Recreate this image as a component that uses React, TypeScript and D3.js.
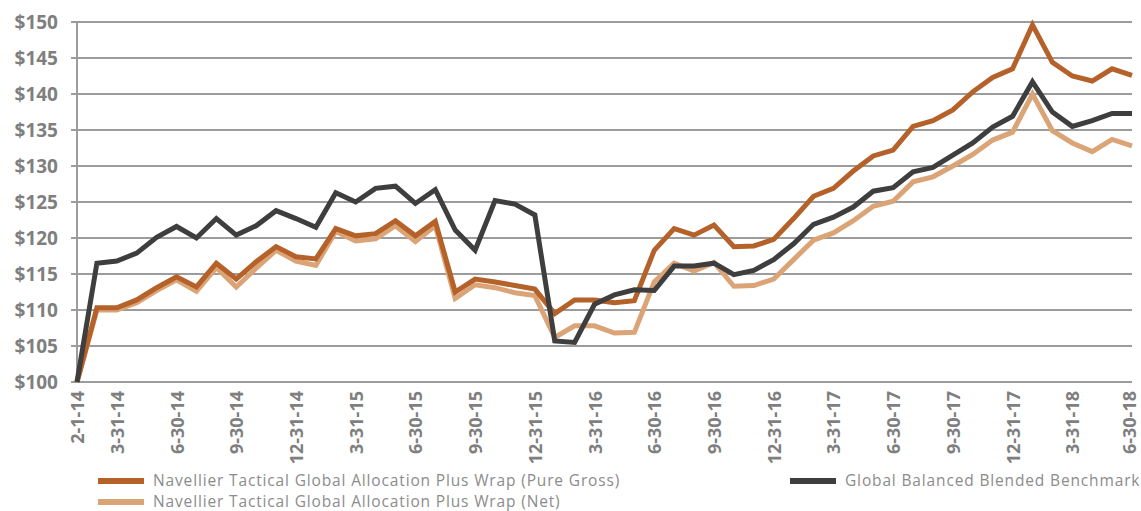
import React, { useEffect, useRef } from "react";
import * as d3 from "d3";

const dates = [
  "2-1-14", "2-28-14", "3-31-14", "4-30-14", "5-31-14", "6-30-14", "7-31-14", "8-31-14", "9-30-14", "10-31-14", "11-30-14", "12-31-14",
  "1-31-15", "2-28-15", "3-31-15", "4-30-15", "5-31-15", "6-30-15", "7-31-15", "8-31-15", "9-30-15", "10-31-15", "11-30-15", "12-31-15",
  "1-31-16", "2-29-16", "3-31-16", "4-30-16", "5-31-16", "6-30-16", "7-31-16", "8-31-16", "9-30-16", "10-31-16", "11-30-16", "12-31-16",
  "1-31-17", "2-28-17", "3-31-17", "4-30-17", "5-31-17", "6-30-17", "7-31-17", "8-31-17", "9-30-17", "10-31-17", "11-30-17", "12-31-17",
  "1-31-18", "2-28-18", "3-31-18", "4-30-18", "5-31-18", "6-30-18",
];

const tickLabels = [
  "2-1-14", "3-31-14", "6-30-14", "9-30-14", "12-31-14", "3-31-15", "6-30-15", "9-30-15", "12-31-15",
  "3-31-16", "6-30-16", "9-30-16", "12-31-16", "3-31-17", "6-30-17", "9-30-17", "12-31-17", "3-31-18", "6-30-18",
];

const yTicks = [100, 105, 110, 115, 120, 125, 130, 135, 140, 145, 150];

const grossValues = [
  100, 110.3, 110.3, 111.4, 113.1, 114.6, 113.2, 116.5, 114.3, 116.7, 118.8, 117.4,
  117.1, 121.3, 120.3, 120.6, 122.4, 120.3, 122.3, 112.5, 114.3, 113.9, 113.4, 112.9,
  109.5, 111.4, 111.4, 111.0, 111.3, 118.3, 121.3, 120.4, 121.8, 118.8, 118.9, 119.8,
  122.7, 125.8, 126.9, 129.3, 131.4, 132.2, 135.5, 136.3, 137.8, 140.3, 142.3, 143.5,
  149.6, 144.4, 142.5, 141.8, 143.5, 142.6,
];

const netValues = [
  100, 110.0, 110.0, 111.0, 112.7, 114.2, 112.6, 115.9, 113.2, 115.8, 118.3, 116.8,
  116.2, 120.9, 119.6, 119.9, 121.7, 119.5, 121.7, 111.6, 113.5, 113.1, 112.4, 112.0,
  106.2, 107.8, 107.8, 106.8, 106.9, 113.9, 116.5, 115.4, 116.6, 113.3, 113.4, 114.3,
  117.0, 119.7, 120.7, 122.4, 124.4, 125.1, 127.8, 128.5, 130.0, 131.6, 133.6, 134.7,
  140.0, 134.9, 133.2, 132.0, 133.7, 132.8,
];

const benchmarkValues = [
  100, 116.5, 116.8, 117.9, 120.1, 121.6, 120.0, 122.7, 120.4, 121.7, 123.8, 122.7,
  121.5, 126.3, 125.0, 126.9, 127.2, 124.8, 126.7, 121.1, 118.3, 125.2, 124.7, 123.2,
  105.7, 105.5, 110.8, 112.1, 112.8, 112.7, 116.1, 116.1, 116.5, 114.9, 115.5, 117.0,
  119.2, 121.9, 122.9, 124.3, 126.5, 127.0, 129.2, 129.8, 131.5, 133.2, 135.4, 136.9,
  141.7, 137.5, 135.5, 136.3, 137.3, 137.3,
];

const seriesNames = [
  "Navellier Tactical Global Allocation Plus Wrap (Pure Gross)",
  "Navellier Tactical Global Allocation Plus Wrap (Net)",
  "Global Balanced Blended Benchmark",
];

export default function App() {
  const ref = useRef<SVGSVGElement>(null);

  useEffect(() => {
    const svg = d3.select(ref.current);
    svg.selectAll("*").remove();

    const width = 1141;
    const height = 511;
    const margin = { top: 22, left: 77, right: 9, bottom: 129 };

    const x = d3.scalePoint().domain(dates).range([margin.left, width - margin.right]);
    const y = d3.scaleLinear().domain([100, 150]).range([height - margin.bottom, margin.top]);

    const gray = "#7f7f7f";

    // grid
    svg.append("g")
      .selectAll("line")
      .data(yTicks)
      .enter().append("line")
      .attr("x1", margin.left - 6)
      .attr("x2", width - margin.right)
      .attr("y1", d => y(d))
      .attr("y2", d => y(d))
      .attr("stroke", "#9c9c9c")
      .attr("stroke-width", 2);

    svg.append("line")
      .attr("x1", margin.left).attr("x2", margin.left)
      .attr("y1", y(150)).attr("y2", y(100))
      .attr("stroke", "#9c9c9c")
      .attr("stroke-width", 2);

    // y axis labels
    const yAxis = svg.append("g")
      .attr("transform", `translate(${margin.left},0)`)
      .call(d3.axisLeft(y).tickValues(yTicks).tickFormat(d => `$${d}`).tickSize(0).tickPadding(19));
    yAxis.select(".domain").remove();
    yAxis.selectAll("text")
      .attr("fill", gray)
      .style("font-family", "'Open Sans', sans-serif")
      .style("font-weight", "bold")
      .style("font-size", "19px");

    // x axis labels, the last one is pulled in a little so it stays on the page
    const xAxis = svg.append("g")
      .attr("transform", `translate(0,${y(100)})`)
      .call(d3.axisBottom(x).tickValues(tickLabels).tickSize(0));
    xAxis.select(".domain").remove();
    xAxis.selectAll("text")
      .attr("fill", gray)
      .attr("transform", "rotate(-90)")
      .attr("text-anchor", "end")
      .attr("x", -9)
      .attr("y", 0)
      .attr("dy", (d, i) => (i === tickLabels.length - 1 ? "0.2em" : "0.36em"))
      .style("font-family", "'Open Sans', sans-serif")
      .style("font-weight", "bold")
      .style("font-size", "18px");

    const line = d3.line<number>()
      .x((d, i) => x(dates[i]) as number)
      .y(d => y(d));

    const series = [
      { values: netValues, color: "#dba477" },
      { values: grossValues, color: "#b5612a" },
      { values: benchmarkValues, color: "#3e3e3e" },
    ];

    svg.append("g")
      .selectAll("path")
      .data(series)
      .enter().append("path")
      .attr("d", d => line(d.values))
      .attr("fill", "none")
      .attr("stroke", d => d.color)
      .attr("stroke-width", 5)
      .attr("stroke-linejoin", "miter");

    // legend
    const legend = [
      { name: seriesNames[0], color: "#b5612a", lx: 98, ly: 481 },
      { name: seriesNames[1], color: "#dba477", lx: 98, ly: 502 },
      { name: seriesNames[2], color: "#3e3e3e", lx: 790, ly: 481 },
    ];
    const lg = svg.append("g").selectAll("g").data(legend).enter().append("g");
    lg.append("line")
      .attr("x1", d => d.lx).attr("x2", d => d.lx + 46)
      .attr("y1", d => d.ly).attr("y2", d => d.ly)
      .attr("stroke", d => d.color)
      .attr("stroke-width", 6);
    lg.append("text")
      .attr("x", d => d.lx + 55)
      .attr("y", d => d.ly)
      .attr("dy", "0.35em")
      .attr("fill", "#8c8c8c")
      .style("font-family", "'Open Sans', sans-serif")
      .style("font-size", "15.5px")
      .style("letter-spacing", "0.85px")
      .text(d => d.name);
  }, []);

  return (
    <svg ref={ref} width={1141} height={511}
      style={{ position: "absolute", left: 0, top: 0, background: "#fff" }} />
  );
}
